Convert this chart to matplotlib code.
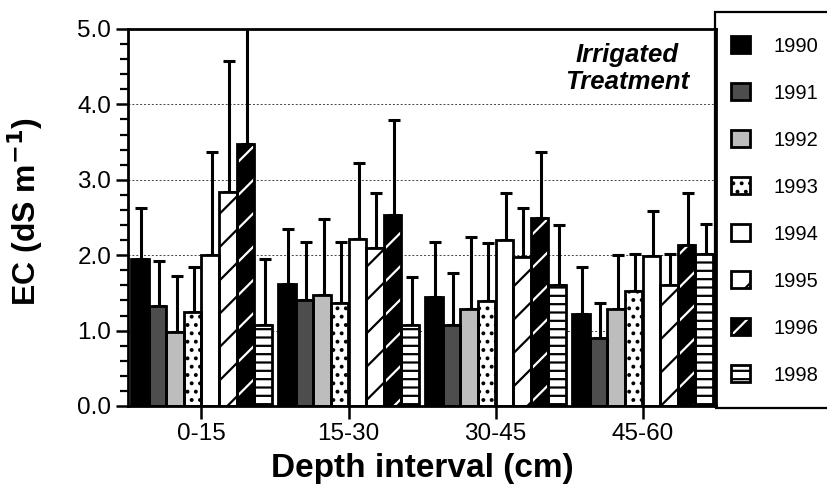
import matplotlib
matplotlib.use("Agg")
import matplotlib.pyplot as plt
import numpy as np
from matplotlib.patches import Patch, Rectangle
from matplotlib.legend_handler import HandlerTuple
from matplotlib.ticker import MultipleLocator, FormatStrFormatter

plt.rcParams['font.family'] = ['Liberation Sans', 'DejaVu Sans']
plt.rcParams['hatch.linewidth'] = 1.6

depths = ['0-15', '15-30', '30-45', '45-60']
years = ['1990', '1991', '1992', '1993', '1994', '1995', '1996', '1998']

# mean EC per year (rows) and depth interval (columns)
ec_mean = np.array([
    [1.95, 1.62, 1.44, 1.22],
    [1.33, 1.40, 1.08, 0.90],
    [0.98, 1.47, 1.29, 1.29],
    [1.25, 1.36, 1.39, 1.53],
    [2.00, 2.21, 2.20, 1.99],
    [2.84, 2.10, 1.98, 1.60],
    [3.48, 2.53, 2.49, 2.14],
    [1.08, 1.08, 1.61, 2.02],
])
# top of the error bar
ec_upper = np.array([
    [2.62, 2.35, 2.17, 1.85],
    [1.92, 2.17, 1.77, 1.36],
    [1.72, 2.48, 2.24, 2.00],
    [1.85, 2.17, 2.16, 2.01],
    [3.37, 3.22, 2.83, 2.58],
    [4.57, 2.83, 2.62, 2.01],
    [5.60, 3.79, 3.37, 2.82],
    [1.95, 1.71, 2.40, 2.41],
])

styles = [
    dict(face='black', hatch=None, hatch_col='black'),
    dict(face='#4d4d4d', hatch=None, hatch_col='black'),
    dict(face='#bdbdbd', hatch=None, hatch_col='black'),
    dict(face='white', hatch='..', hatch_col='black'),
    dict(face='white', hatch=None, hatch_col='black'),
    dict(face='white', hatch='/', hatch_col='black'),
    dict(face='black', hatch='/', hatch_col='white'),
    dict(face='white', hatch='--', hatch_col='black'),
]

fig = plt.figure(figsize=(8.28, 4.88), dpi=100)
ax = fig.add_axes([128 / 828, 1 - 406 / 488, (716 - 128) / 828, (406 - 29) / 488])

x = np.arange(len(depths))
width = 0.12
handles = []
for i, (year, st) in enumerate(zip(years, styles)):
    pos = x + (i - 3.5) * width
    # fill + hatch layer
    ax.bar(pos, ec_mean[i], width, color=st['face'], edgecolor=st['hatch_col'],
           hatch=st['hatch'], linewidth=0, zorder=2)
    # outline layer
    ax.bar(pos, ec_mean[i], width, fill=False, edgecolor='black', linewidth=2, zorder=3)
    err = ec_upper[i] - ec_mean[i]
    ax.errorbar(pos + 0.01, ec_mean[i], yerr=[np.zeros_like(err), err], fmt='none',
                ecolor='black', elinewidth=2.2, capsize=4, capthick=2.2, zorder=1)
    fill_patch = Patch(facecolor=st['face'], edgecolor=st['hatch_col'], hatch=st['hatch'], linewidth=0)
    edge_patch = Patch(fill=False, edgecolor='black', linewidth=2)
    handles.append((fill_patch, edge_patch))

ax.set_xlim(-0.5, 3.5)
ax.set_ylim(0, 5.0)
ax.yaxis.set_major_locator(MultipleLocator(1.0))
ax.yaxis.set_minor_locator(MultipleLocator(0.2))
ax.yaxis.set_major_formatter(FormatStrFormatter('%.1f'))
ax.set_xticks(x)
ax.set_xticklabels(depths)
ax.tick_params(axis='both', which='major', labelsize=17.5, width=1.8, length=9,
               direction='out', pad=3)
ax.tick_params(axis='y', which='minor', width=1.6, length=6, direction='out')
for s in ax.spines.values():
    s.set_linewidth(2)

for yv in [1, 2, 3, 4]:
    ax.axhline(yv, color='#444444', linestyle=(0, (2, 2)), linewidth=0.7, zorder=0)

ax.set_ylabel('EC (dS m$^{\\mathbf{-1}}$)', fontsize=23, fontweight='bold')
ax.yaxis.set_label_coords(-0.142, 0.515)
ax.set_xlabel('Depth interval (cm)', fontsize=24, fontweight='bold', labelpad=6)

ax.text(0.849, 0.895, 'Irrigated\nTreatment', transform=ax.transAxes, ha='center', va='center',
        fontsize=18.5, fontweight='bold', fontstyle='italic', linespacing=1.15)

# legend frame extending past the right edge
fig.patches.append(Rectangle((715 / 828, 1 - 408 / 488), 0.3, (408 - 12) / 488,
                             transform=fig.transFigure, fill=False, edgecolor='black',
                             linewidth=1.6, zorder=5))
fig.legend(handles, years, loc='upper left', bbox_to_anchor=(731 / 828, 1 - 36 / 488),
           frameon=False, fontsize=14.5, handlelength=0.95, handleheight=0.95,
           handletextpad=1.15, labelspacing=1.36, borderaxespad=0, borderpad=0,
           handler_map={tuple: HandlerTuple(ndivide=1, pad=0)})

fig.savefig('out.png', dpi=100)
